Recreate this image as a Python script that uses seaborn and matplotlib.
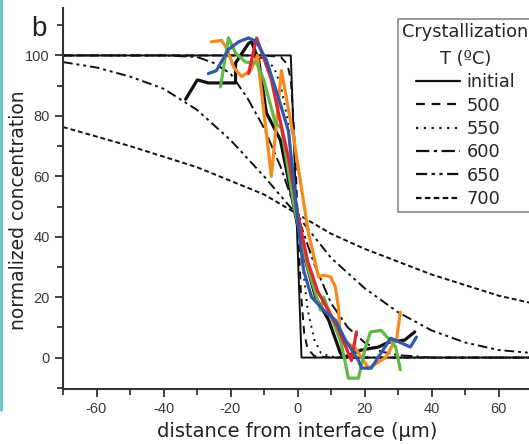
import numpy as np
import pandas as pd
import matplotlib
matplotlib.use("Agg")
import matplotlib.pyplot as plt
from matplotlib.lines import Line2D
import seaborn as sns

# ---------------- data ----------------
# model curves: distance (um) and normalized concentration
initial_x = [-70, -2, 1.2, 70]
initial_y = [100, 100, 0, 0]

t500_x = [-70, -10, -5, -3, -2, -1, 0, 1, 2, 3, 5, 10, 70]
t500_y = [100, 100, 99.5, 97, 92, 75, 48, 22, 8, 3, 0.5, 0, 0]

t550_x = [-70, -15, -10, -7, -5, -3, -1, 0, 1, 3, 5, 7, 10, 15, 70]
t550_y = [100, 100, 99, 96, 90, 79, 58, 47, 36, 16, 6, 1.5, 0.3, 0, 0]

t600_x = [-70, -40, -30, -25, -20, -15, -10, -5, 0, 5, 10, 15, 20, 25, 30, 40, 70]
t600_y = [100, 100, 99.5, 97.5, 94, 86, 76, 63, 47, 31, 18, 10, 5, 2, 0.8, 0, 0]

t650_x = [-70, -60, -50, -40, -30, -20, -10, 0, 10, 20, 30, 40, 50, 60, 70]
t650_y = [97.8, 96, 93, 89, 82, 72, 60, 47, 33, 23, 15, 9, 5, 2.5, 1.5]

t700_x = [-70, -50, -30, -10, 0, 10, 20, 40, 60, 70]
t700_y = [76.3, 70, 63, 54, 47.5, 41, 36, 27.5, 20.5, 18]

# measured profiles
black_x = [-33.4, -29.9, -26.6, -18.5, -18.5, -14.6, -13.7, -11.6, -9.3, -5.1, -0.3,
           2.4, 5.4, 9.3, 12.8, 13.7, 19, 24.2, 27, 32, 35]
black_y = [85.5, 91.9, 90.9, 90.9, 97.5, 104, 104.5, 98.5, 81, 72, 45.5,
           32, 20, 12.4, 1.5, 0, 2.5, 3.5, 5, 5.8, 8.5]

orange_x = [-25.7, -22.7, -21.2, -19, -16.7, -14, -12, -7.8, -4.8, -1.2,
            3.3, 6.3, 7.8, 9.9, 11.3, 12.2, 12.8, 17.3, 21.2, 26.3, 29.6, 30.7]
orange_y = [104.5, 105, 102.5, 96, 93, 95, 100, 60, 95, 73,
            41, 26.7, 27.3, 26.7, 23.4, 16.7, 6.4, 3, -3.5, 0, 6.4, 15]

green_x = [-23, -20.6, -18.5, -15.5, -12.2, -10.1, -6.6, -4.8, -1, 3,
           6.9, 7.8, 10.1, 13, 15.2, 18.2, 20.3, 21.8, 25, 29.3, 30.7]
green_y = [89.6, 105.8, 100.8, 97.8, 97.5, 92, 77.6, 76, 50, 30,
           15.7, 20, 13.4, 5, -6.8, -6.8, 3.5, 8.5, 9, 3.5, -4]

red_x = [-14.6, -12.2, -7.8, -5.7, -2.5, 0, 3, 6, 9, 12, 15, 16.1, 17.6]
red_y = [94, 105.8, 92, 81, 65, 48, 32, 22, 16, 10, 2, -1, 8.5]

blue_x = [-26.6, -24.2, -20.6, -17.6, -14.6, -12.2, -9.3, -5.7, -2.7, 0,
          1.8, 4.2, 8.4, 11.3, 14.3, 18.2, 19.1, 22, 27.8, 33.7, 35.5]
blue_y = [94, 95, 102, 104.5, 105.8, 104.5, 98.5, 86, 75, 46,
          29, 20, 15, 12.4, 5.8, -1, -3.5, -3.5, 6.4, 3.5, 6.8]

legend_labels = ["initial", "500", "550", "600", "650", "700"]
x_ticks = [-60, -40, -20, 0, 20, 40, 60]
y_ticks = [0, 20, 40, 60, 80, 100]

# ---------------- style ----------------
sns.set_style("ticks")
plt.rcParams["font.family"] = ["Liberation Sans", "DejaVu Sans"]
plt.rcParams["axes.unicode_minus"] = False

W, H = 529, 444
fig = plt.figure(figsize=(W / 100, H / 100), dpi=100)
fig.patch.set_facecolor("white")

# axes: left spine at px 63, bottom at px 389, top at px 8, x 3.35 px/um
ax_left = 63 / W
ax_bottom = (H - 389) / H
ax_height = (389 - 8) / H
ax_width = (140 * 3.35) / W
ax = fig.add_axes([ax_left, ax_bottom, ax_width, ax_height])

model_color = "#111111"
mlw = 1.4
model_styles = [
    (initial_x, initial_y, "-", legend_labels[0]),
    (t500_x, t500_y, (0, (4, 3)), legend_labels[1]),
    (t550_x, t550_y, (0, (1, 2.5)), legend_labels[2]),
    (t600_x, t600_y, (0, (6, 2, 1.5, 2)), legend_labels[3]),
    (t650_x, t650_y, (0, (5, 2, 1.5, 2, 1.5, 2)), legend_labels[4]),
    (t700_x, t700_y, (0, (2.5, 1.5)), legend_labels[5]),
]

handles = []
for xs, ys, ls, lab in model_styles:
    df = pd.DataFrame({"x": xs, "y": ys})
    sns.lineplot(data=df, x="x", y="y", ax=ax, sort=False, estimator=None,
                 color=model_color, linewidth=mlw, linestyle=ls)
    handles.append(Line2D([], [], color=model_color, linewidth=1.6, linestyle=ls, label=lab))

exp_series = [
    (black_x, black_y, "#111111"),
    (orange_x, orange_y, "#f58a1f"),
    (green_x, green_y, "#62b846"),
    (red_x, red_y, "#e3262d"),
    (blue_x, blue_y, "#3358a8"),
]
for xs, ys, c in exp_series:
    df = pd.DataFrame({"x": xs, "y": ys})
    sns.lineplot(data=df, x="x", y="y", ax=ax, sort=False, estimator=None,
                 color=c, linewidth=2.3)

ax.set_xlim(-70, 70)
ax.set_ylim(-10.4, 115.7)
ax.set_xticks(x_ticks)
ax.set_yticks(y_ticks)
ax.set_xticks([-70, -50, -30, -10, 10, 30, 50, 70], minor=True)
ax.set_yticks([-10, 10, 30, 50, 70, 90, 110], minor=True)
ax.tick_params(axis="both", which="major", direction="out", length=6, width=1.3,
               colors="#333333", labelsize=10.5, labelcolor="#3a3a3a")
ax.tick_params(axis="both", which="minor", direction="out", length=4, width=1.3,
               colors="#333333")
ax.tick_params(axis="x", pad=3)
for s in ["top", "right"]:
    ax.spines[s].set_visible(False)
for s in ["left", "bottom"]:
    ax.spines[s].set_linewidth(1.5)
    ax.spines[s].set_color("#333333")

label_font = ["DejaVu Sans"]
ax.set_xlabel("distance from interface (µm)", fontsize=14, family=label_font,
              color="#222222", labelpad=5)
ax.set_ylabel("normalized concentration", fontsize=13.5, family=label_font,
              color="#222222")
ax.yaxis.set_label_coords(-0.074, 0.47)

# legend
leg = fig.legend(handles=handles, loc="upper left",
                 bbox_to_anchor=(398 / W, 1 - 19 / H),
                 bbox_transform=fig.transFigure,
                 title="Crystallization\nT (ºC)",
                 prop={"family": label_font, "size": 12.8},
                 title_fontproperties={"family": label_font, "size": 12.8},
                 frameon=True, fancybox=False, framealpha=1,
                 edgecolor="#888888", handlelength=2.5, handletextpad=0.35,
                 labelspacing=0.3, borderpad=0.25, borderaxespad=0)
leg.get_frame().set_linewidth(1.2)
leg.get_title().set_multialignment("center")
leg.get_title().set_linespacing(1.6)

# panel label
fig.text(31 / W, 1 - 36 / H, "b", fontsize=20, family=["Liberation Sans"],
         color="#222222", ha="left", va="baseline")

# thin teal edge seen at the left border of the picture
fig.add_artist(Line2D([1 / W, 1 / W], [1, 1 - 410 / H], transform=fig.transFigure,
                      color="#5fc3cc", linewidth=2))

fig.savefig("out.png", dpi=100)
